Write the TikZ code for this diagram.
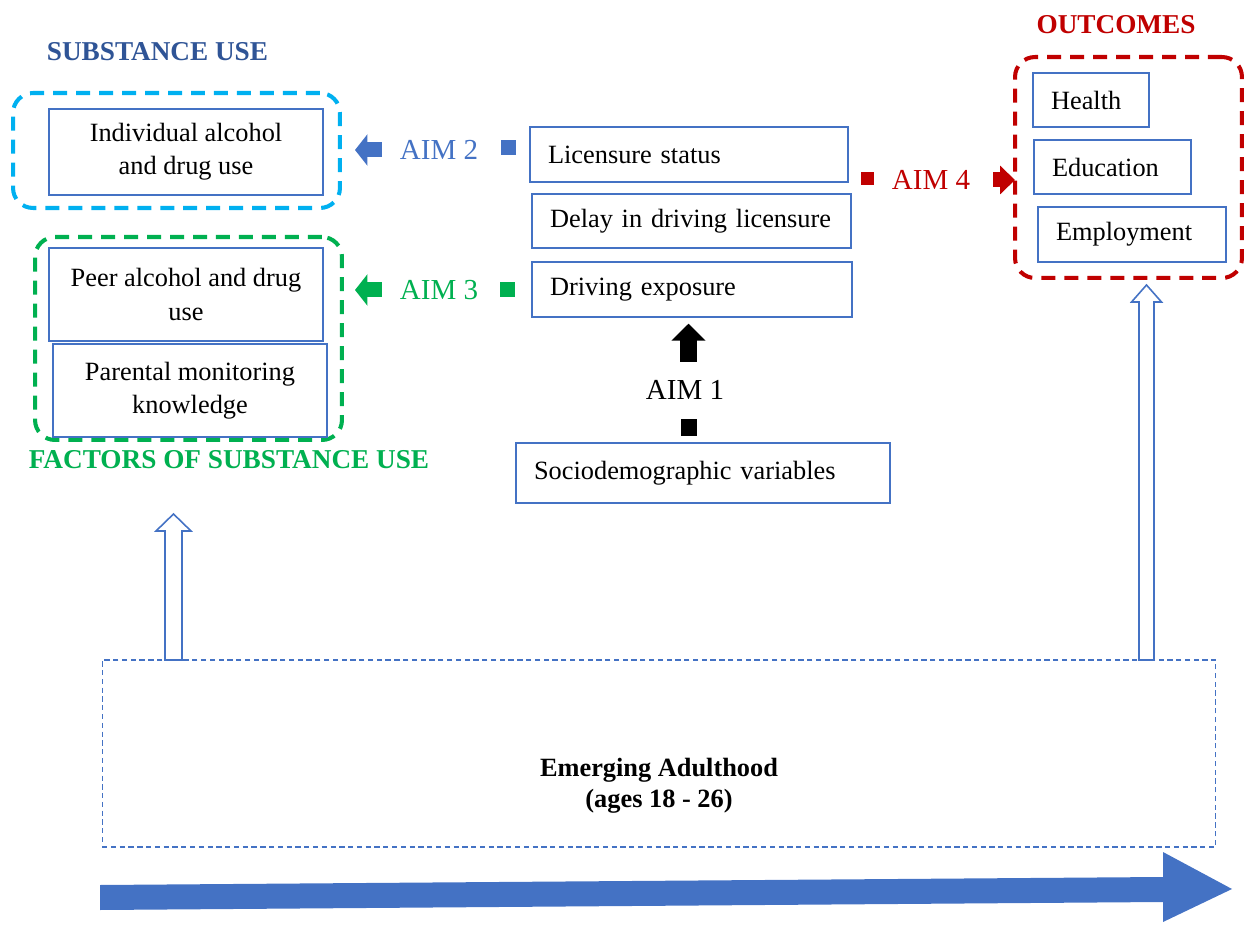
\documentclass[tikz,border=0pt]{standalone}
\usepackage{fontspec}
\setmainfont{Liberation Serif}
\usetikzlibrary{arrows.meta,calc}

\definecolor{boxblue}{RGB}{68,114,196}
\definecolor{aimblue}{RGB}{68,114,196}
\definecolor{titlenavy}{RGB}{47,84,150}
\definecolor{aimgreen}{RGB}{0,176,80}
\definecolor{aimred}{RGB}{192,0,0}
\definecolor{grpcyan}{RGB}{0,176,240}

\tikzset{
  box/.style={draw=boxblue, fill=white, line width=0.8pt, align=center,
    font=\fontsize{15}{19}\selectfont, inner sep=0pt},
  lbox/.style={box, align=left, text width=#1, inner xsep=0.36cm},
  grp/.style={draw=#1, line width=2.3pt, dash pattern=on 0.28cm off 0.18cm,
    rounded corners=0.4cm},
  grptitle/.style={font=\fontsize{15.5}{18}\selectfont\bfseries, text=#1},
  aimtext/.style={font=\fontsize{16.5}{19}\selectfont, text=#1, inner sep=0pt},
  sq/.style={fill=#1, minimum size=0.3cm, inner sep=0pt},
  fat/.style={line width=0.3cm, -{Triangle[length=0.25cm, width=0.62cm]}},
  hollow/.style={draw=boxblue, fill=white, line width=0.9pt},
}

\begin{document}
\begin{tikzpicture}[x=0.02cm, y=-0.02cm]
    \useasboundingbox (0,0) rectangle (1244,925);

    % group frames
    \node[grp=grpcyan, minimum width=6.54cm, minimum height=2.3cm] (subst) at (176.5,150.5) {};
    \node[grp=aimgreen, minimum width=6.14cm, minimum height=4.06cm] (factors) at (188.5,338.5) {};
    \node[grp=aimred, minimum width=4.54cm, minimum height=4.42cm] (outcomes) at (1128.5,167.5) {};

    \node[grptitle=titlenavy] (substtitle) at (157.5,52) {SUBSTANCE USE};
    \node[grptitle=aimgreen] (factorstitle) at (229,460) {FACTORS OF SUBSTANCE USE};
    \node[grptitle=aimred] (outtitle) at (1116,25) {OUTCOMES};

    % substance use side
    \node[box, minimum width=5.48cm, minimum height=1.72cm] (indiv) at (186,152) {Individual alcohol\\and drug use};
    \node[box, minimum width=5.48cm, minimum height=1.86cm] (peer) at (186,294.5) {Peer alcohol and drug\\use};
    \node[box, minimum width=5.48cm, minimum height=1.86cm] (parent) at (190,390.5) {Parental monitoring\\knowledge};

    % driving measures
    \node[lbox=5.64cm, minimum height=1.1cm] (lic) at (689,154.5) {Licensure status};
    \node[lbox=5.66cm, minimum height=1.08cm] (delay) at (691.5,221) {Delay in driving licensure};
    \node[lbox=5.68cm, minimum height=1.1cm] (drive) at (692,289.5) {Driving exposure};
    \node[lbox=6.76cm, minimum height=1.2cm] (socio) at (703,473) {Sociodemographic variables};

    % outcomes
    \node[lbox=1.6cm, minimum height=1.08cm] (health) at (1091,100) {Health};
    \node[lbox=2.42cm, minimum height=1.08cm] (edu) at (1112.5,167) {Education};
    \node[lbox=3.04cm, minimum height=1.1cm] (employ) at (1132,234.5) {Employment};

    % aims
    \node[aimtext=aimblue] (aim2) at (439,150) {AIM 2};
    \node[sq=aimblue] (sq2) at (508.5,147.5) {};
    \draw[fat, aimblue, shorten <=0.36cm, shorten >=0.26cm] (aim2.west) -- (aim2.west -| subst.east);

    \node[aimtext=aimgreen] (aim3) at (439,290) {AIM 3};
    \node[sq=aimgreen] (sq3) at (507.5,289.5) {};
    \draw[fat, aimgreen, shorten <=0.36cm, shorten >=0.22cm] (aim3.west) -- (aim3.west -| factors.east);

    \node[aimtext=aimred] (aim4) at (931,180) {AIM 4};
    \node[sq=aimred, minimum size=0.26cm] (sq4) at (867.5,178.5) {};
    \draw[fat, aimred, -{Triangle[length=0.3cm, width=0.56cm]}, shorten <=0.46cm, shorten >=-0.04cm] (aim4.east) -- (aim4.east -| outcomes.west);

    \node[aimtext=black] (aim1) at (685,390) {AIM 1};
    \node[sq=black, minimum width=0.32cm, minimum height=0.36cm] (sq1) at (688.5,427.5) {};
    \draw[fat, line width=0.34cm, -{Triangle[length=0.34cm, width=0.66cm]}, shorten <=0.37cm, shorten >=0.12cm] (aim1.north -| sq1) -- (drive.south -| sq1);

    % emerging adulthood
    \node[draw=boxblue, line width=0.6pt, dash pattern=on 3pt off 2pt, minimum width=22.28cm, minimum height=3.74cm] (emerge) at (659,753.5) {};
    \node[font=\fontsize{15}{17.5}\selectfont\bfseries, align=center] (emergetext) at (659,786) {Emerging Adulthood\\(ages 18 - 26)};

    \coordinate (lfoot) at (173.5,660);
    \coordinate (ltip) at (173.5,514);
    \coordinate (rfoot) at (1146.5,660);
    \coordinate (rtip) at (1146.5,285);
    \draw[hollow] ($(lfoot)+(-8.5,0)$) -- ($(ltip)+(-8.5,17)$) -- ($(ltip)+(-17.5,17)$) -- (ltip)
        -- ($(ltip)+(17.5,17)$) -- ($(ltip)+(8.5,17)$) -- ($(lfoot)+(8.5,0)$) -- cycle;
    \draw[hollow] ($(rfoot)+(-7.5,0)$) -- ($(rtip)+(-7.5,17)$) -- ($(rtip)+(-15,17)$) -- (rtip)
        -- ($(rtip)+(15,17)$) -- ($(rtip)+(7.5,17)$) -- ($(rfoot)+(7.5,0)$) -- cycle;

    % time arrow
    \fill[aimblue] (100,885) -- (1163,877) -- (1163,852) -- (1232,889) -- (1163,922)
        -- (1163,902) -- (100,910) -- cycle;
\end{tikzpicture}
\end{document}
